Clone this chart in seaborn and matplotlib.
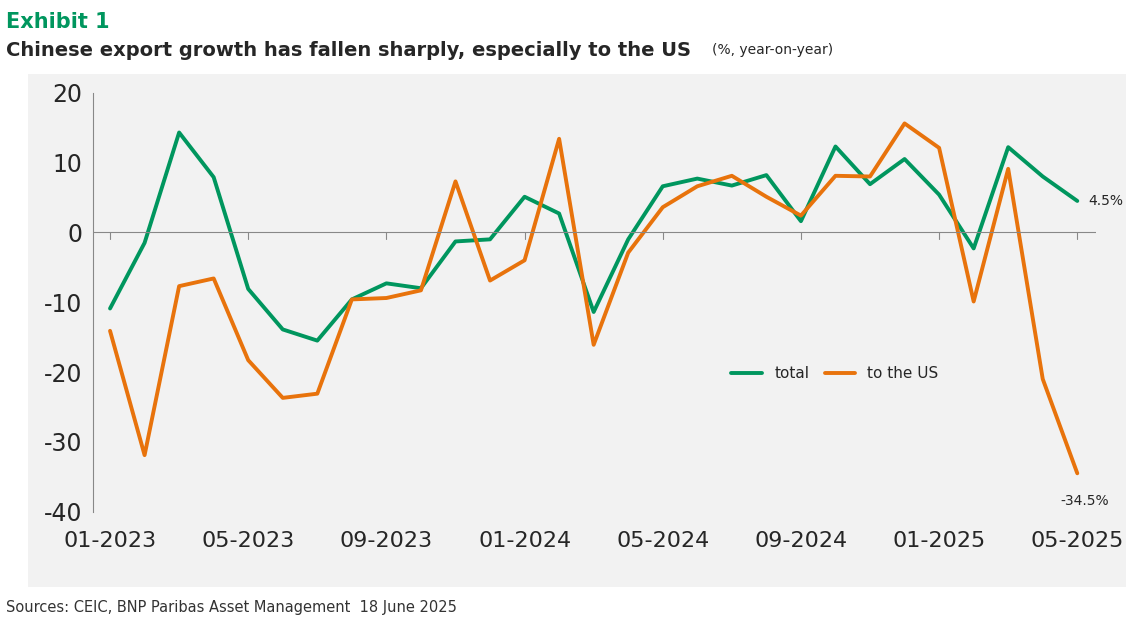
import numpy as np
import pandas as pd
import seaborn as sns
import matplotlib.pyplot as plt

months = pd.date_range("2023-01-01", "2025-05-01", freq="MS")
total = [-10.9, -1.5, 14.3, 7.9, -8.1, -13.9, -15.5, -9.6, -7.3, -8.0, -1.3, -1.0,
         5.1, 2.7, -11.4, -1.0, 6.6, 7.7, 6.7, 8.2, 1.6, 12.3, 6.9, 10.5,
         5.4, -2.3, 12.2, 8.0, 4.5]
to_us = [-14.1, -31.9, -7.7, -6.6, -18.3, -23.7, -23.1, -9.6, -9.4, -8.3, 7.3, -6.9,
         -4.0, 13.4, -16.1, -2.9, 3.6, 6.6, 8.1, 5.1, 2.4, 8.1, 8.0, 15.6,
         12.1, -9.9, 9.1, -21.0, -34.5]
tick_labels = ["01-2023", "05-2023", "09-2023", "01-2024", "05-2024", "09-2024", "01-2025", "05-2025"]

df = pd.DataFrame({"i": np.arange(len(months)), "total": total, "to the US": to_us})
long = df.melt(id_vars="i", var_name="series", value_name="v")

sns.set_style("white")
plt.rcParams['font.family'] = ['DejaVu Sans']
fig = plt.figure(figsize=(11.26, 6.18), dpi=100)
bg = fig.add_axes([0.025, 0.05, 0.975, 0.83])
bg.set_facecolor("#f2f2f2")
bg.set_xticks([])
bg.set_yticks([])
for s in bg.spines.values():
    s.set_visible(False)

ax = fig.add_axes([0.083, 0.172, 0.89, 0.678])
ax.set_facecolor("none")
green, orange = "#00965e", "#e8730c"
sns.lineplot(data=long, x="i", y="v", hue="series", palette=[green, orange],
             linewidth=2.8, ax=ax)
ax.set_ylim(-40, 20)
ax.set_xlim(-0.48, 28.53)
ax.set_yticks(range(-40, 21, 10))
ax.set_yticklabels([str(v) for v in range(-40, 21, 10)], fontsize=17)
ax.set_xticks(range(0, 29, 4))
ax.set_xticklabels(tick_labels, fontsize=16)
ax.tick_params(axis="x", length=0, pad=14)
ax.tick_params(axis="y", length=0, pad=8)
for s in ["top", "right", "bottom"]:
    ax.spines[s].set_visible(False)
ax.spines["left"].set_color("#888888")
ax.axhline(0, color="#888888", lw=0.8)
for x in range(0, 29, 4):
    ax.plot([x, x], [0, -0.9], color="#888888", lw=0.8)
ax.set_xlabel("")
ax.set_ylabel("")
ax.legend(loc="center", bbox_to_anchor=(0.74, 0.33), ncol=2, frameon=False, fontsize=11,
          handlelength=2.0, columnspacing=1.0)
ax.annotate("4.5%", (28, 4.5), xytext=(8, 0), textcoords="offset points",
            fontsize=10, va="center")
ax.annotate("-34.5%", (28, -34.5), xytext=(-12, -20), textcoords="offset points",
            fontsize=10, va="center")
fig.text(0.005, 0.955, "Exhibit 1", color=green, fontsize=15, fontweight="bold")
fig.text(0.005, 0.91, "Chinese export growth has fallen sharply, especially to the US",
         fontsize=14, fontweight="bold")
fig.text(0.632, 0.912, "(%, year-on-year)", fontsize=10)
fig.text(0.005, 0.01, "Sources: CEIC, BNP Paribas Asset Management  18 June 2025",
         fontsize=10.5, color="#333333")
fig.savefig("out.png")
